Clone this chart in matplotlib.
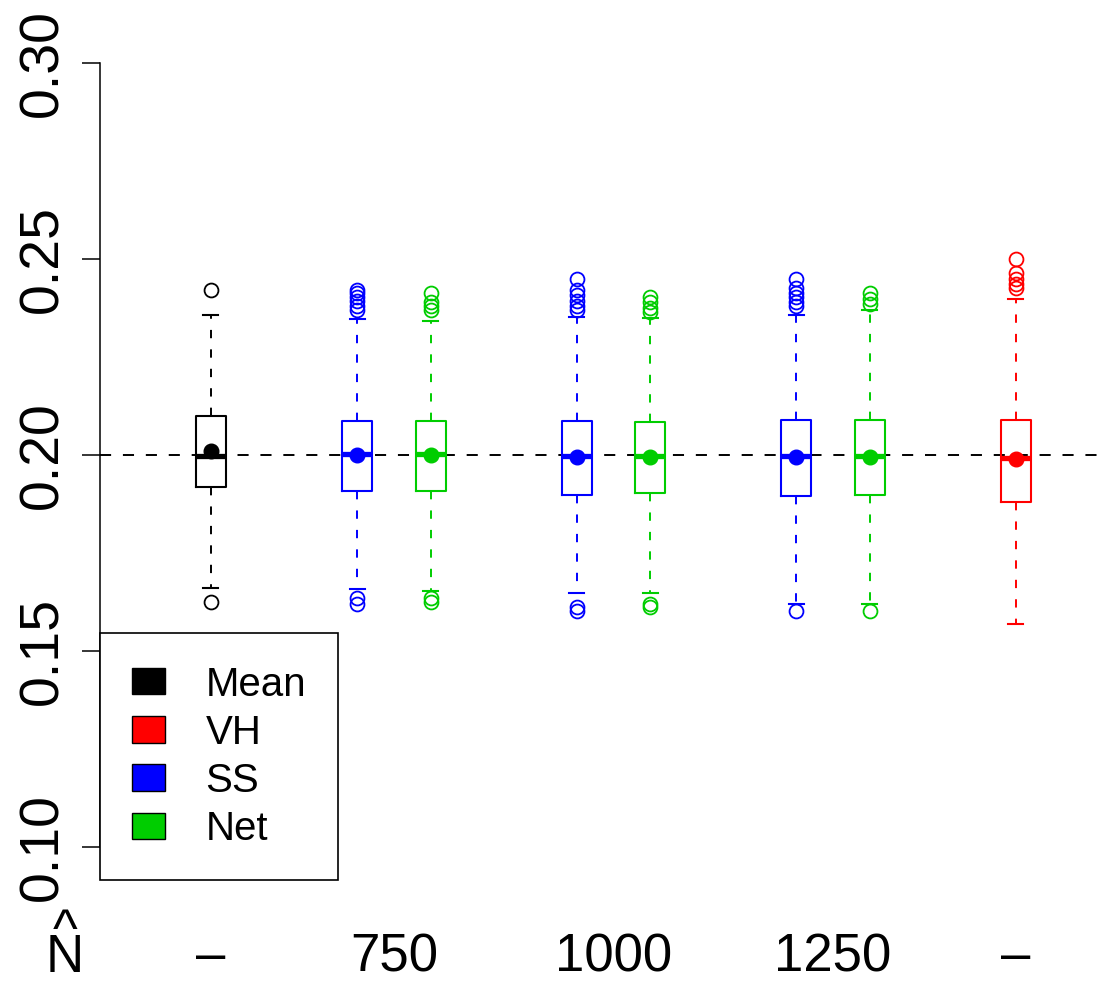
import matplotlib
matplotlib.use("Agg")
import matplotlib.pyplot as plt
from matplotlib.patches import Patch
import matplotlib.transforms as mtransforms

plt.rcParams['font.family'] = ['Liberation Sans', 'DejaVu Sans']
plt.rcParams['lines.scale_dashes'] = False

# ---- data ----
group_names = ["Mean", "SS 750", "Net 750", "SS 1000", "Net 1000", "SS 1250", "Net 1250", "VH"]
positions = [1, 3, 4, 6, 7, 9, 10, 12]
colors = ["black", "#0000FF", "#00CD00", "#0000FF", "#00CD00", "#0000FF", "#00CD00", "#FF0000"]
q1 = [0.1919, 0.1908, 0.1908, 0.1898, 0.1903, 0.1896, 0.1898, 0.1880]
med = [0.1997, 0.2002, 0.2002, 0.1998, 0.1998, 0.1997, 0.1998, 0.1992]
q3 = [0.2099, 0.2086, 0.2086, 0.2086, 0.2084, 0.2089, 0.2089, 0.2089]
whislo = [0.1662, 0.1657, 0.1652, 0.1649, 0.1649, 0.1619, 0.1619, 0.1570]
whishi = [0.2356, 0.2348, 0.2343, 0.2351, 0.2350, 0.2356, 0.2369, 0.2399]
means = [0.2010, 0.2000, 0.2000, 0.1996, 0.1996, 0.1995, 0.1995, 0.1990]
fliers = [
    [0.2420, 0.1624],
    [0.2420, 0.2412, 0.2402, 0.2392, 0.2381, 0.2369, 0.1636, 0.1619],
    [0.2414, 0.2389, 0.2379, 0.2369, 0.1636, 0.1624],
    [0.2450, 0.2420, 0.2407, 0.2394, 0.2381, 0.2369, 0.1613, 0.1601],
    [0.2402, 0.2389, 0.2376, 0.2364, 0.1620, 0.1613],
    [0.2450, 0.2427, 0.2414, 0.2402, 0.2389, 0.2381, 0.1601],
    [0.2412, 0.2399, 0.2386, 0.1601],
    [0.2501, 0.2463, 0.2450, 0.2437, 0.2425],
]
true_value = 0.20
x_label_pos = [1, 3.5, 6.5, 9.5, 12]
x_labels = ["\u2013", "750", "1000", "1250", "\u2013"]
y_ticks = [0.10, 0.15, 0.20, 0.25, 0.30]
y_ticklabels = ["0.10", "0.15", "0.20", "0.25", "0.30"]
legend_labels = ["Mean", "VH", "SS", "Net"]
legend_colors = ["black", "#FF0000", "#0000FF", "#00CD00"]

W, H = 1106, 982
fig = plt.figure(figsize=(W / 100, H / 100), dpi=100)
ax = fig.add_axes([100 / W, (H - 880) / H, 1006 / W, 850 / H])
ax.set_xlim(-0.516, 13.23)
ax.set_ylim(0.0916, 0.3084)

ax.axhline(true_value, color="black", lw=1.4, dashes=(8, 8.5), zorder=1)

for i in range(len(positions)):
    c = colors[i]
    st = dict(med=med[i], q1=q1[i], q3=q3[i], whislo=whislo[i], whishi=whishi[i],
              mean=means[i], fliers=fliers[i])
    ax.bxp([st], positions=[positions[i]], widths=0.41, capwidths=0.205,
           showmeans=True, showfliers=True, manage_ticks=False,
           boxprops=dict(color=c, lw=1.5),
           whiskerprops=dict(color=c, lw=1.4, dashes=(6, 8)),
           capprops=dict(color=c, lw=1.5),
           medianprops=dict(color=c, lw=3.8, solid_capstyle='butt'),
           meanprops=dict(marker='o', markerfacecolor=c, markeredgecolor=c, markersize=10.5),
           flierprops=dict(marker='o', markerfacecolor='none', markeredgecolor=c,
                           markersize=10, markeredgewidth=1.3),
           zorder=3)

for s in ["top", "right", "bottom"]:
    ax.spines[s].set_visible(False)
ax.spines["left"].set_bounds(0.10, 0.30)
ax.spines["left"].set_linewidth(1.1)
ax.set_xticks([])
ax.set_yticks(y_ticks)
ax.set_yticklabels(y_ticklabels, fontsize=40)
ax.tick_params(axis='y', length=13, width=1.1, pad=9)
for lab in ax.get_yticklabels():
    lab.set_rotation(90)
    lab.set_va("center")

trans = mtransforms.blended_transform_factory(ax.transData, fig.transFigure)
for xp, lab in zip(x_label_pos, x_labels):
    ax.text(xp, 1 - 971 / H, lab, transform=trans, ha="center", va="baseline", fontsize=38)
# N with a hat drawn above it, as one two-line text
fig.text(65 / W, 1 - 972 / H, "^\nN", ha="center", va="baseline", fontsize=38,
         multialignment="center", linespacing=0.36)

handles = [Patch(facecolor=lc, edgecolor="black", lw=1.0) for lc in legend_colors]
leg = ax.legend(handles, legend_labels, loc="lower left", bbox_to_anchor=(0, 0),
                borderaxespad=0, fontsize=29, frameon=True, fancybox=False,
                handlelength=0.82, handleheight=0.62, handletextpad=1.0,
                labelspacing=0.25, borderpad=0.8)
leg.get_frame().set_edgecolor("black")
leg.get_frame().set_linewidth(1.2)
leg.get_frame().set_alpha(1)

fig.savefig("out.png", dpi=100)
